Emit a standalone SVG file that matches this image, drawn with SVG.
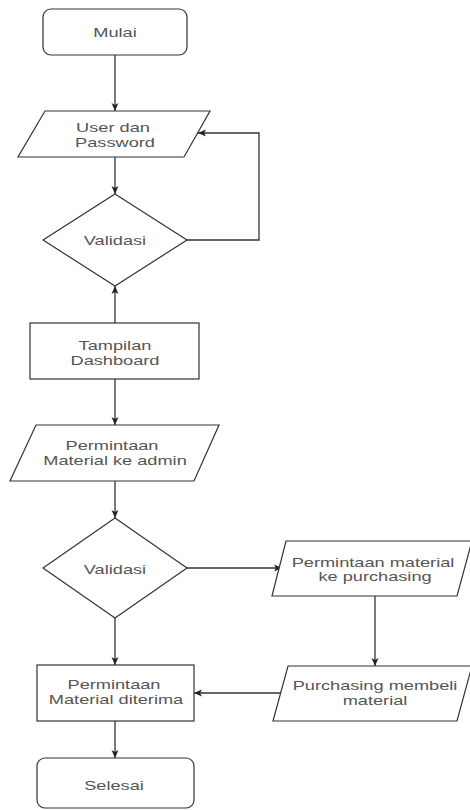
<svg xmlns="http://www.w3.org/2000/svg" width="470" height="810" viewBox="0 0 470 810">
<style>
.s{fill:#fff;stroke:#333;stroke-width:1.2}
.c{fill:none;stroke:#333;stroke-width:1.3}
.t{font-family:"Liberation Sans",Arial,sans-serif;font-size:13px;fill:#555;text-anchor:middle}
</style>
<defs>
<marker id="a" viewBox="0 0 8 8" markerWidth="8" markerHeight="8" refX="8" refY="4" orient="auto" markerUnits="userSpaceOnUse">
<path d="M0,0.5 L8,4 L0,7.5 L2,4 z" fill="#222"/>
</marker>
</defs>
<rect width="470" height="810" fill="#fff"/>
<g id="connectors">
<path class="c" d="M115,55 V111" marker-end="url(#a)"/>
<path class="c" d="M115,157 V194" marker-end="url(#a)"/>
<path class="c" d="M187,240 H259 V133 H198" marker-end="url(#a)"/>
<path class="c" d="M115,323 V286" marker-end="url(#a)"/>
<path class="c" d="M115,379 V425" marker-end="url(#a)"/>
<path class="c" d="M115,481 V518" marker-end="url(#a)"/>
<path class="c" d="M187,568 H282" marker-end="url(#a)"/>
<path class="c" d="M375,596 V666" marker-end="url(#a)"/>
<path class="c" d="M282,693 H194" marker-end="url(#a)"/>
<path class="c" d="M115,618 V665" marker-end="url(#a)"/>
<path class="c" d="M115,721 V758" marker-end="url(#a)"/>
</g>
<g id="mulai">
<rect class="s" x="43" y="9" width="144" height="46" rx="8"/>
<text class="t" transform="matrix(1.4,0,0,1,115,0)" y="37">Mulai</text>
</g>
<g id="user">
<polygon class="s" points="45,111 210,111 184,157 18,157"/>
<text class="t" transform="matrix(1.4,0,0,1,113,0)" y="132">User dan</text>
<text class="t" transform="matrix(1.4,0,0,1,115,0)" y="147">Password</text>
</g>
<g id="validasi1">
<polygon class="s" points="115,194 187,240 115,286 43,240"/>
<text class="t" transform="matrix(1.4,0,0,1,115,0)" y="245">Validasi</text>
</g>
<g id="dashboard">
<rect class="s" x="30" y="323" width="169" height="56"/>
<text class="t" transform="matrix(1.4,0,0,1,115,0)" y="350">Tampilan</text>
<text class="t" transform="matrix(1.4,0,0,1,115,0)" y="365">Dashboard</text>
</g>
<g id="permintaan-admin">
<polygon class="s" points="36,425 219,425 194,481 10,481"/>
<text class="t" transform="matrix(1.4,0,0,1,112,0)" y="450">Permintaan</text>
<text class="t" transform="matrix(1.4,0,0,1,115,0)" y="465">Material ke admin</text>
</g>
<g id="validasi2">
<polygon class="s" points="115,518 187,568 115,618 43,568"/>
<text class="t" transform="matrix(1.4,0,0,1,115,0)" y="574">Validasi</text>
</g>
<g id="permintaan-purchasing">
<polygon class="s" points="286,541 472,541 457,596 272,596"/>
<text class="t" transform="matrix(1.4,0,0,1,373,0)" y="567">Permintaan material</text>
<text class="t" transform="matrix(1.4,0,0,1,375,0)" y="581">ke purchasing</text>
</g>
<g id="purchasing-membeli">
<polygon class="s" points="288,666 472,666 457,721 273,721"/>
<text class="t" transform="matrix(1.4,0,0,1,375,0)" y="690">Purchasing membeli</text>
<text class="t" transform="matrix(1.4,0,0,1,375,0)" y="705">material</text>
</g>
<g id="diterima">
<rect class="s" x="37" y="665" width="157" height="56"/>
<text class="t" transform="matrix(1.4,0,0,1,114,0)" y="689">Permintaan</text>
<text class="t" transform="matrix(1.4,0,0,1,116,0)" y="704">Material diterima</text>
</g>
<g id="selesai">
<rect class="s" x="37" y="758" width="157" height="50" rx="8"/>
<text class="t" transform="matrix(1.4,0,0,1,114,0)" y="790">Selesai</text>
</g>
</svg>
